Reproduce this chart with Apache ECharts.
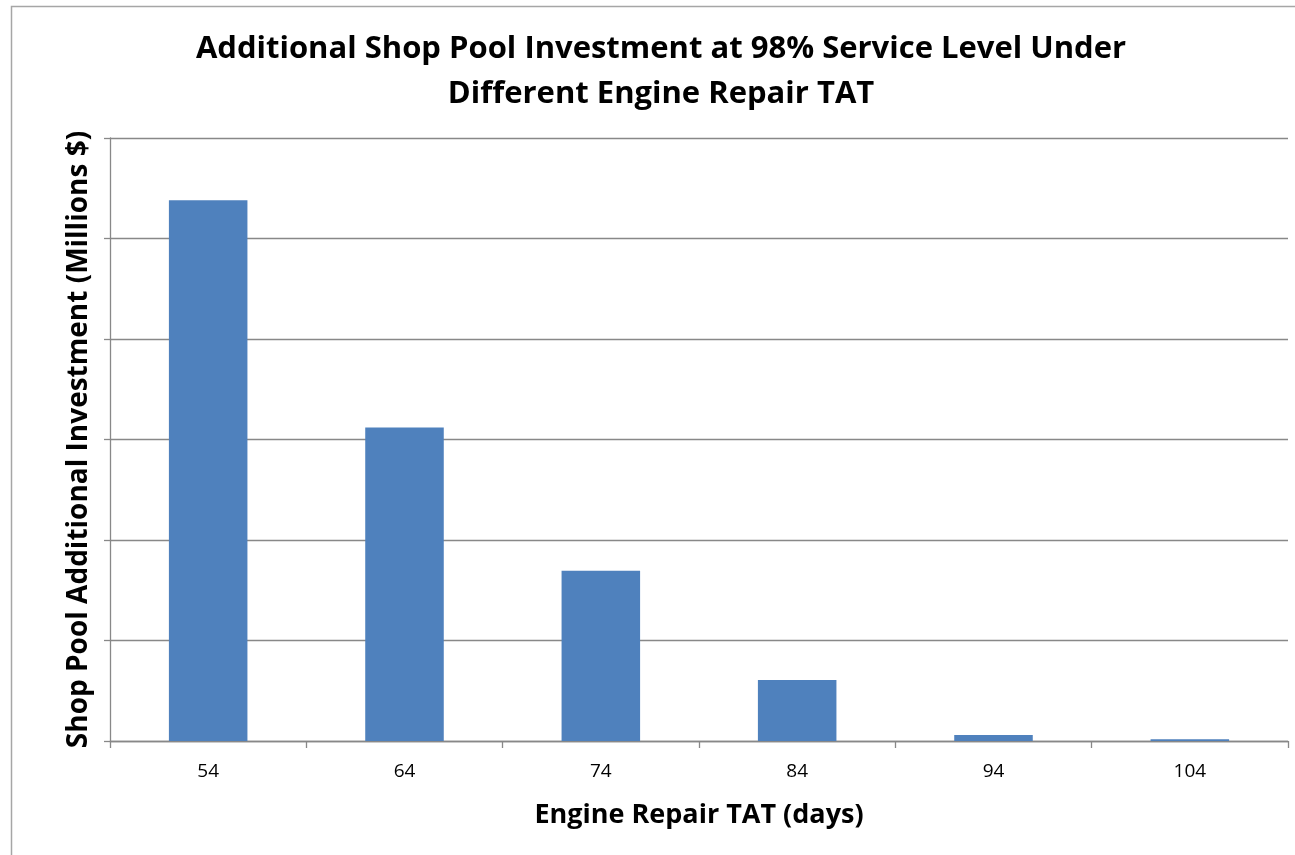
<!DOCTYPE html>
<html>
<head>
<meta charset="utf-8">
<script src="https://cdn.jsdelivr.net/npm/echarts@6/dist/echarts.min.js"></script>
<style>html,body{margin:0;padding:0;background:#fff}#c{width:1295px;height:855px}</style>
</head>
<body>
<div id="c"></div>
<script>
const categories = ['54', '64', '74', '84', '94', '104'];
const investment = [5.38, 3.12, 1.695, 0.607, 0.06, 0.017];
const titleText = 'Additional Shop Pool Investment at 98% Service Level Under\nDifferent Engine Repair TAT';
const xName = 'Engine Repair TAT (days)';
const yName = 'Shop Pool Additional Investment (Millions $)';

const chart = echarts.init(document.getElementById('c'), null, {renderer: 'canvas'});
const FONT = '"Open Sans", Lato, sans-serif';
chart.setOption({
  animation: false,
  backgroundColor: '#fff',
  graphic: [{
    type: 'rect', left: 9, top: 4, silent: true,
    shape: {width: 1400, height: 1000},
    style: {fill: 'none', stroke: '#a6a6a6', lineWidth: 1.5}
  }],
  title: {
    text: titleText, left: 656, top: 22, textAlign: 'center',
    textStyle: {fontFamily: FONT, fontWeight: 'bold', fontSize: 31, lineHeight: 45, color: '#000'}
  },
  grid: {left: 110, right: 7, top: 138, bottom: 114, containLabel: false},
  xAxis: {
    type: 'category', data: categories,
    name: xName, nameLocation: 'middle', nameGap: 61,
    nameTextStyle: {fontFamily: FONT, fontWeight: 'bold', fontSize: 27, color: '#000'},
    axisLine: {lineStyle: {color: '#888', width: 1.3}},
    axisTick: {show: true, length: 7, lineStyle: {color: '#888', width: 1.3}},
    axisLabel: {fontFamily: FONT, fontSize: 19, color: '#000', margin: 21}
  },
  yAxis: {
    type: 'value', min: 0, max: 6, interval: 1,
    name: yName, nameLocation: 'middle', nameGap: 17,
    nameTextStyle: {fontFamily: FONT, fontWeight: 'bold', fontSize: 28, color: '#000'},
    axisLine: {show: true, lineStyle: {color: '#888', width: 1.3}},
    axisTick: {show: true, length: 6, lineStyle: {color: '#888', width: 1.3}},
    axisLabel: {show: false},
    splitLine: {lineStyle: {color: '#888', width: 1.3}}
  },
  series: [{
    type: 'bar', data: investment, barCategoryGap: '60%',
    itemStyle: {color: '#4F81BD'}
  }]
});
</script>
</body>
</html>
